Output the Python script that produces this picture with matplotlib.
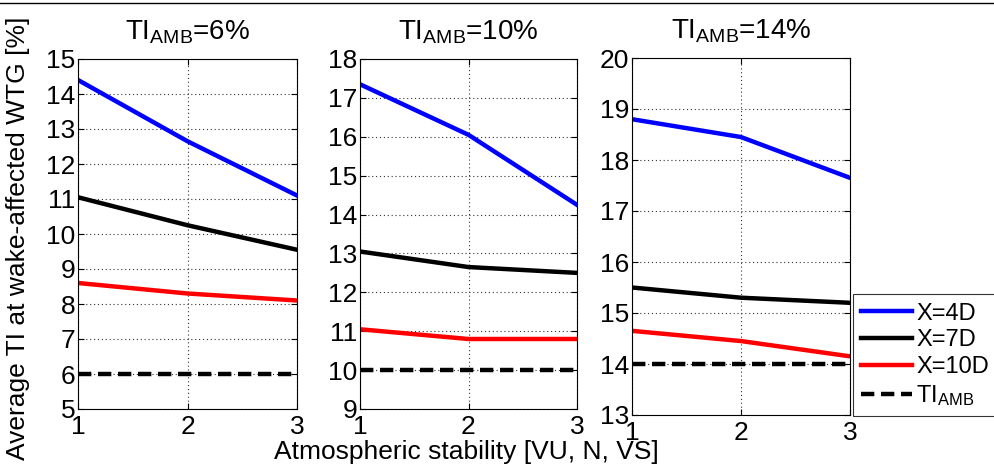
import matplotlib.pyplot as plt
from matplotlib.lines import Line2D

plt.rcParams['font.family'] = ['Liberation Sans', 'DejaVu Sans']
plt.rcParams['mathtext.default'] = 'regular'

stability = [1, 2, 3]
ti_amb = [6, 10, 14]
ylims = [(5, 15), (9, 18), (13, 20)]

x4d = [[14.4, 12.65, 11.1], [17.35, 16.05, 14.25], [18.8, 18.45, 17.65]]
x7d = [[11.05, 10.25, 9.55], [13.05, 12.65, 12.5], [15.5, 15.3, 15.2]]
x10d = [[8.6, 8.3, 8.1], [11.05, 10.8, 10.8], [14.65, 14.45, 14.15]]

series_labels = ['X=4D', 'X=7D', 'X=10D', r'TI$_{AMB}$']
colors = ['blue', 'black', 'red']
dash = (0, (3, 1.5))

fig = plt.figure(figsize=(9.94, 4.68), dpi=100)
W, H = 994, 468
# axes boxes in pixels: left, right, top, bottom
boxes = [(78, 297, 59, 409), (360, 577, 59, 409), (632, 850, 58, 415)]

for i, (l, r, t, b) in enumerate(boxes):
    ax = fig.add_axes([l / W, 1 - b / H, (r - l) / W, (b - t) / H])
    ax.plot(stability, x4d[i], color=colors[0], lw=3.2)
    ax.plot(stability, x7d[i], color=colors[1], lw=3.2)
    ax.plot(stability, x10d[i], color=colors[2], lw=3.2)
    ax.plot(stability, [ti_amb[i]] * 3, color='black', lw=3.2, ls=dash)
    ax.set_xlim(1, 3)
    ax.set_ylim(*ylims[i])
    ax.set_xticks(stability)
    ax.set_yticks(range(ylims[i][0], ylims[i][1] + 1))
    ax.tick_params(direction='in', labelsize=19, length=4, width=0.8,
                   pad=2, top=True, right=True)
    ax.tick_params(axis='x', pad=4)
    ax.grid(True, ls=(0, (1, 2.5)), color='#333333', lw=0.8)
    for s in ax.spines.values():
        s.set_linewidth(0.8)
    ax.set_title(r'TI$_{AMB}$=%d%%' % ti_amb[i], fontsize=20, pad=14)

fig.text(18 / W, 1 - 238 / H, 'Average TI at wake-affected WTG [%]', rotation=90,
         ha='center', va='center', fontsize=19)
fig.text(466 / W, 1 - 452 / H, 'Atmospheric stability [VU, N, VS]',
         ha='center', va='center', fontsize=19)

handles = [Line2D([], [], color=c, lw=3.2) for c in colors]
handles.append(Line2D([], [], color='black', lw=3.2, ls=dash))
leg = fig.legend(handles, series_labels, loc='lower left',
                 bbox_to_anchor=(853 / W, 1 - 416 / H), fontsize=17,
                 frameon=True, fancybox=False, edgecolor='black',
                 handlelength=2.15, handletextpad=0.17, borderpad=0.35,
                 labelspacing=0.2, borderaxespad=0)
leg.get_frame().set_linewidth(0.8)

fig.add_artist(Line2D([0, 1], [1 - 3 / H, 1 - 3 / H], color='black', lw=1))

fig.savefig('out.png', dpi=100)
